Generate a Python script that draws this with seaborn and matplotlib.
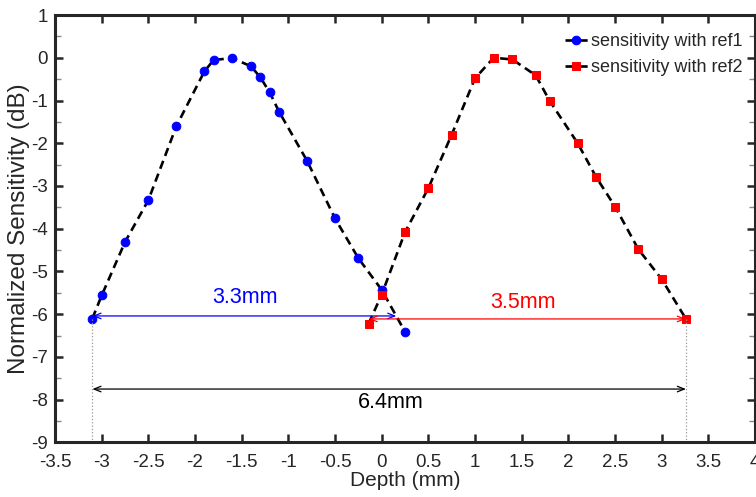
import matplotlib
matplotlib.use("Agg")
import matplotlib.pyplot as plt
import seaborn as sns
import pandas as pd
import numpy as np

# Data
ref1_depth = [-3.10, -3.00, -2.75, -2.50, -2.20, -1.90, -1.80, -1.60, -1.40, -1.30,
              -1.20, -1.10, -0.80, -0.50, -0.25, 0.00, 0.25]
ref1_sens = [-6.10, -5.56, -4.31, -3.33, -1.60, -0.32, -0.05, -0.01, -0.20, -0.46,
             -0.81, -1.26, -2.41, -3.76, -4.69, -5.43, -6.41]
ref2_depth = [-0.14, 0.00, 0.25, 0.50, 0.75, 1.00, 1.20, 1.40, 1.65, 1.80,
              2.10, 2.30, 2.50, 2.75, 3.00, 3.26]
ref2_sens = [-6.22, -5.54, -4.08, -3.05, -1.80, -0.48, 0.00, -0.04, -0.41, -1.01,
             -2.00, -2.80, -3.48, -4.48, -5.18, -6.11]
series_labels = ["sensitivity with ref1", "sensitivity with ref2"]
x_ticks = [-3.5, -3, -2.5, -2, -1.5, -1, -0.5, 0, 0.5, 1, 1.5, 2, 2.5, 3, 3.5, 4]
x_ticklabels = ["-3.5", "-3", "-2.5", "-2", "-1.5", "-1", "-0.5", "0", "0.5", "1",
                "1.5", "2", "2.5", "3", "3.5", "4"]
y_ticks = [-9, -8, -7, -6, -5, -4, -3, -2, -1, 0, 1]
y_ticklabels = ["-9", "-8", "-7", "-6", "-5", "-4", "-3", "-2", "-1", "0", "1"]
span1 = (-3.10, 0.157, -6.04, "3.3mm")
span2 = (-0.14, 3.26, -6.11, "3.5mm")
span_total = (-3.10, 3.26, -7.75, "6.4mm")

sns.set_style("ticks")
plt.rcParams["font.family"] = ["Liberation Sans", "DejaVu Sans"]
plt.rcParams["axes.unicode_minus"] = False

fig = plt.figure(figsize=(7.56, 4.97), dpi=100)
ax = fig.add_axes([0.0728, 0.1097, 0.9259, 0.8601])

df1 = pd.DataFrame({"depth": ref1_depth, "sens": ref1_sens})
df2 = pd.DataFrame({"depth": ref2_depth, "sens": ref2_sens})

dash = (0, (3.2, 2.0))
sns.lineplot(data=df1, x="depth", y="sens", ax=ax, sort=False, estimator=None,
             color="black", linestyle=dash, linewidth=1.9, marker="o",
             markersize=6.2, markerfacecolor="#0000ff", markeredgecolor="#0000ff",
             label=series_labels[0])
sns.lineplot(data=df2, x="depth", y="sens", ax=ax, sort=False, estimator=None,
             color="black", linestyle=dash, linewidth=1.9, marker="s",
             markersize=6.0, markerfacecolor="#ff0000", markeredgecolor="#ff0000",
             label=series_labels[1])


def span(s, color):
    x0, x1, y, txt = s
    ax.annotate("", xy=(x1, y), xytext=(x0, y),
                arrowprops=dict(arrowstyle="<->,head_length=0.5,head_width=0.2",
                                color=color, lw=0.9, shrinkA=0, shrinkB=0))


span(span1, "#0000ff")
ax.text(-1.47, -5.62, span1[3], color="#0000ff", fontsize=15.5, ha="center", va="center")
span(span2, "#ff0000")
ax.text(1.51, -5.73, span2[3], color="#ff0000", fontsize=15.5, ha="center", va="center")
span(span_total, "black")
ax.text(0.10, -8.07, span_total[3], color="black", fontsize=15.5, ha="center", va="center")

ax.plot([span1[0], span1[0]], [-6.1, -9], linestyle=":", color="#999999", lw=0.9)
ax.plot([span2[1], span2[1]], [-6.11, -9], linestyle=":", color="#999999", lw=0.9)

ax.set_xlim(-3.5, 4)
ax.set_ylim(-9, 1)
ax.set_xticks(x_ticks)
ax.set_xticklabels(x_ticklabels)
ax.set_yticks(y_ticks)
ax.set_yticklabels(y_ticklabels)
ax.set_yticks(np.arange(-8.5, 1, 1.0), minor=True)
ax.tick_params(axis="both", which="major", direction="in", length=6, width=1.8,
               top=True, right=True, labelsize=13.5)
ax.tick_params(axis="x", which="major", pad=8)
ax.tick_params(axis="y", which="major", pad=5)
ax.tick_params(axis="both", which="minor", direction="in", length=4, width=1.0,
               top=False, right=True, left=True, color="#888888")
for sp in ax.spines.values():
    sp.set_linewidth(2.2)
    sp.set_visible(True)

ax.set_xlabel("Depth (mm)", fontsize=15, labelpad=0)
ax.set_ylabel("Normalized Sensitivity (dB)", fontsize=17.5, labelpad=1)

leg = ax.legend(loc="upper right", bbox_to_anchor=(1.0, 0.987), frameon=False,
                fontsize=13, handlelength=1.3, handletextpad=0.15,
                labelspacing=0.5, borderaxespad=0.3)

fig.savefig("out.png", dpi=100)
